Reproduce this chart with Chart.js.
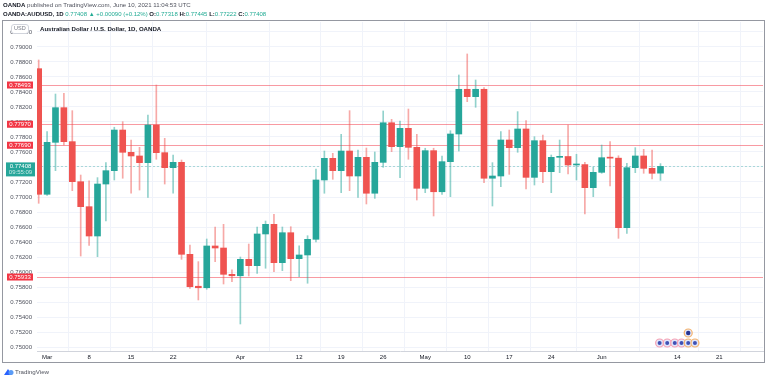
<!DOCTYPE html>
<html><head><meta charset="utf-8">
<script src="https://cdn.jsdelivr.net/npm/chart.js@4.4.0/dist/chart.umd.min.js"></script>
<style>
html,body{margin:0;padding:0;background:#fff;}
#wrap{position:relative;width:768px;height:381px;overflow:hidden;font-family:"Liberation Sans",Arial,sans-serif;}
#c{position:absolute;left:0;top:0;}
.t{position:absolute;white-space:nowrap;line-height:1;}
.g{color:#22ab94;}
b{color:#131722;}
</style></head><body>
<div id="wrap">
<canvas id="c" width="768" height="381"></canvas>
<div class="t" style="left:3px;top:2px;font-size:6.1px;color:#50535e"><b>OANDA</b> published on TradingView.com, June 10, 2021 11:04:53 UTC</div>
<div class="t" style="left:3px;top:11px;font-size:6px;color:#50535e"><b>OANDA:AUDUSD, 1D</b> <span class="g">0.77408 ▲ +0.00090 (+0.12%)</span> <b>O:</b><span class="g">0.77318</span> <b>H:</b><span class="g">0.77445</span> <b>L:</b><span class="g">0.77222</span> <b>C:</b><span class="g">0.77408</span></div>
<div class="t" style="left:11px;top:24px;font-size:5.5px;color:#787b86;background:#fff;border:1px solid #d1d4dc;border-radius:3px;padding:1px 2px;">USD</div>
<div class="t" style="left:40px;top:26px;font-size:6.1px;"><b>Australian Dollar / U.S. Dollar, 1D, OANDA</b></div>
<div class="t" style="left:15px;top:369px;font-size:6.2px;color:#50535e">TradingView</div>
</div>
<script>
// ---- data ----
const dates = ['2021-02-26','2021-03-01','2021-03-02','2021-03-03','2021-03-04','2021-03-05','2021-03-08','2021-03-09','2021-03-10','2021-03-11','2021-03-12','2021-03-15','2021-03-16','2021-03-17','2021-03-18','2021-03-19','2021-03-22','2021-03-23','2021-03-24','2021-03-25','2021-03-26','2021-03-29','2021-03-30','2021-03-31','2021-04-01','2021-04-02','2021-04-05','2021-04-06','2021-04-07','2021-04-08','2021-04-09','2021-04-12','2021-04-13','2021-04-14','2021-04-15','2021-04-16','2021-04-19','2021-04-20','2021-04-21','2021-04-22','2021-04-23','2021-04-26','2021-04-27','2021-04-28','2021-04-29','2021-04-30','2021-05-03','2021-05-04','2021-05-05','2021-05-06','2021-05-07','2021-05-10','2021-05-11','2021-05-12','2021-05-13','2021-05-14','2021-05-17','2021-05-18','2021-05-19','2021-05-20','2021-05-21','2021-05-24','2021-05-25','2021-05-26','2021-05-27','2021-05-28','2021-05-31','2021-06-01','2021-06-02','2021-06-03','2021-06-04','2021-06-07','2021-06-08','2021-06-09','2021-06-10'];
const opens  = [0.78711,0.77036,0.77729,0.78191,0.77738,0.77204,0.76871,0.76480,0.77173,0.77351,0.77893,0.77596,0.77547,0.77458,0.77960,0.77591,0.77391,0.77462,0.76236,0.75810,0.75790,0.76347,0.76320,0.75969,0.75950,0.76169,0.76084,0.76507,0.76636,0.76124,0.76524,0.76178,0.76227,0.76436,0.77227,0.77516,0.77351,0.77613,0.77280,0.77529,0.77050,0.77462,0.77990,0.77671,0.77916,0.77662,0.77116,0.77618,0.77070,0.77471,0.77840,0.78436,0.78338,0.78436,0.77250,0.77280,0.77760,0.77658,0.77907,0.77262,0.77751,0.77338,0.77529,0.77540,0.77427,0.77432,0.77124,0.77329,0.77524,0.77518,0.76591,0.77391,0.77547,0.77382,0.77318];
const highs  = [0.78827,0.77871,0.78373,0.78382,0.78151,0.77293,0.77217,0.77258,0.77458,0.77930,0.78004,0.77760,0.77662,0.78093,0.78493,0.77782,0.77560,0.77493,0.76360,0.76138,0.76440,0.76600,0.76636,0.76030,0.76200,0.76373,0.76600,0.76680,0.76770,0.76600,0.76604,0.76350,0.76484,0.77373,0.77613,0.77582,0.77836,0.78151,0.77627,0.77653,0.77600,0.78147,0.78036,0.78013,0.78173,0.77836,0.77650,0.77650,0.77547,0.77884,0.78627,0.78907,0.78560,0.78458,0.77458,0.77871,0.77893,0.78138,0.78018,0.77804,0.77827,0.77560,0.77760,0.77960,0.77570,0.77462,0.77400,0.77693,0.77738,0.77550,0.77450,0.77658,0.77636,0.77627,0.77445];
const lows   = [0.76916,0.77020,0.77351,0.77693,0.77084,0.76213,0.76356,0.76204,0.76680,0.77227,0.77250,0.77050,0.77093,0.76996,0.77503,0.77173,0.77050,0.76169,0.75782,0.75627,0.75770,0.76138,0.75840,0.75871,0.75307,0.75947,0.75982,0.76050,0.76004,0.76018,0.75884,0.75938,0.75850,0.76400,0.77050,0.77236,0.77058,0.77084,0.76996,0.76907,0.76982,0.77396,0.77604,0.77258,0.77503,0.76960,0.77058,0.76747,0.77036,0.77004,0.77613,0.78271,0.78196,0.77191,0.76880,0.77138,0.77302,0.77596,0.77107,0.77160,0.77191,0.77058,0.77324,0.77307,0.77227,0.76773,0.77004,0.77316,0.77147,0.76449,0.76516,0.77324,0.77316,0.77240,0.77222];
const closes = [0.77036,0.77729,0.78191,0.77738,0.77204,0.76871,0.76480,0.77173,0.77351,0.77893,0.77596,0.77547,0.77458,0.77960,0.77591,0.77391,0.77462,0.76236,0.75804,0.75790,0.76347,0.76320,0.75969,0.75950,0.76169,0.76084,0.76507,0.76636,0.76124,0.76524,0.76178,0.76227,0.76436,0.77227,0.77516,0.77351,0.77613,0.77280,0.77529,0.77050,0.77462,0.77990,0.77671,0.77916,0.77662,0.77116,0.77618,0.77070,0.77471,0.77840,0.78436,0.78338,0.78436,0.77250,0.77280,0.77760,0.77658,0.77907,0.77262,0.77751,0.77338,0.77529,0.77540,0.77427,0.77432,0.77124,0.77329,0.77524,0.77518,0.76591,0.77391,0.77547,0.77382,0.77316,0.77408];
const xTickIdx    = [1,6,11,16,24,31,36,41,46,51,56,61,67,76,81];
const xTickLabels = ['Mar','8','15','22','Apr','12','19','26','May','10','17','24','Jun','14','21'];
const yTickLabels = ['0.75000','0.75200','0.75400','0.75600','0.75800','0.76000','0.76200','0.76400','0.76600','0.76800','0.77000','0.77200','0.77400','0.77600','0.77800','0.78000','0.78200','0.78400','0.78600','0.78800','0.79000','0.79200'];
const levels = [0.78493, 0.77970, 0.77690, 0.75933];
const lastPrice = 0.77408;
const countdown = '09:55:09';
const eventIdx = [73.9, 74.8, 75.7, 76.5, 77.3, 78.1];
const eventTopIdx = 77.3;

const GREEN = '#26a69a', RED = '#ef5350';
const up = i => closes[i] >= opens[i];

const overlay = {
  id:'overlay',
  beforeDatasetsDraw(chart){
    const {ctx, chartArea:a, scales:{y}} = chart;
    ctx.save();
    ctx.beginPath(); ctx.rect(a.left,a.top,a.right-a.left,a.bottom-a.top); ctx.clip();
    ctx.lineWidth = 1;
    ctx.strokeStyle = 'rgba(242,54,69,0.5)';
    levels.forEach(v=>{const py=Math.round(y.getPixelForValue(v))+0.5;ctx.beginPath();ctx.moveTo(a.left,py);ctx.lineTo(a.right,py);ctx.stroke();});
    ctx.strokeStyle = 'rgba(38,166,154,0.35)';
    ctx.setLineDash([2,2]);
    const pp=Math.round(y.getPixelForValue(lastPrice))+0.5;
    ctx.beginPath();ctx.moveTo(a.left,pp);ctx.lineTo(a.right,pp);ctx.stroke();
    ctx.restore();
  },
  afterDraw(chart){
    const {ctx, chartArea:a, scales:{x,y}} = chart;
    ctx.save();
    // frame
    ctx.strokeStyle = '#9598a1'; ctx.lineWidth = 1;
    ctx.strokeRect(2.5, 20.5, 762, 342);
    // level labels
    ctx.font = '6px "Liberation Sans", Arial, sans-serif';
    ctx.textAlign='center'; ctx.textBaseline='middle';
    levels.forEach(v=>{
      const py = y.getPixelForValue(v);
      ctx.fillStyle = '#f23645';
      ctx.fillRect(7, py-3.5, 26, 7);
      ctx.fillStyle = '#fff';
      ctx.fillText(v.toFixed(5), 20, py+0.3);
    });
    const pp = y.getPixelForValue(lastPrice);
    ctx.fillStyle = GREEN;
    ctx.fillRect(6, pp-4, 29, 14);
    ctx.fillStyle = '#fff';
    ctx.fillText(lastPrice.toFixed(5), 20.5, pp-0.3);
    ctx.fillStyle = 'rgba(255,255,255,0.75)';
    ctx.fillText(countdown, 20.5, pp+6.3);
    // event markers
    const ey = a.bottom - 8;
    eventIdx.forEach((v,k)=>{
      const px = x.getPixelForValue(v);
      ctx.beginPath(); ctx.arc(px, ey, 4, 0, Math.PI*2);
      ctx.fillStyle = '#dfe6fb'; ctx.fill();
      ctx.lineWidth = 1.2; ctx.strokeStyle = k<4 ? '#f7a1b3' : '#f6b26b'; ctx.stroke();
      ctx.beginPath(); ctx.arc(px, ey, 2, 0, Math.PI*2); ctx.fillStyle='#3f51b5'; ctx.fill();
    });
    const tx = x.getPixelForValue(eventTopIdx);
    ctx.beginPath(); ctx.arc(tx, ey-10, 4, 0, Math.PI*2);
    ctx.fillStyle='#dfe6fb'; ctx.fill(); ctx.strokeStyle='#f6b26b'; ctx.stroke();
    ctx.beginPath(); ctx.arc(tx, ey-10, 2.2, 0, Math.PI*2); ctx.fillStyle='#283593'; ctx.fill();
    // TradingView icon
    ctx.fillStyle = '#2962ff';
    ctx.beginPath(); ctx.moveTo(4,375); ctx.lineTo(8,369); ctx.lineTo(12,375); ctx.closePath(); ctx.fill();
    ctx.fillStyle = '#5b9cf6';
    ctx.beginPath(); ctx.arc(11,372.5,2.5,0,Math.PI*2); ctx.fill();
    ctx.restore();
  }
};

new Chart(document.getElementById('c'), {
  type:'bar',
  data:{datasets:[
    {label:'body', order:0, grouped:false, barThickness:6, minBarLength:1, borderWidth:0,
     data: dates.map((d,i)=>({x:i, y:[opens[i], closes[i]]})),
     backgroundColor: c => up(c.dataIndex) ? GREEN : RED},
    {label:'wick', order:1, grouped:false, barThickness:1, borderWidth:0,
     data: dates.map((d,i)=>({x:i, y:[lows[i], highs[i]]})),
     backgroundColor: c => up(c.dataIndex) ? 'rgba(38,166,154,0.5)' : 'rgba(239,83,80,0.5)'}
  ]},
  options:{
    responsive:false, animation:false, devicePixelRatio:1,
    layout:{padding:{left:2,right:5,top:22,bottom:18}},
    plugins:{legend:{display:false}, tooltip:{enabled:false}},
    scales:{
      x:{type:'linear', min:-0.2, max:86.2, offset:false,
         grid:{color:'#f0f3fa', drawTicks:false},
         border:{color:'#d1d4dc'},
         ticks:{autoSkip:false, maxRotation:0, padding:3, color:'#131722',
                font:{family:'"Liberation Sans", Arial, sans-serif', size:6},
                callback:(v)=>{const k=xTickIdx.indexOf(v);return k<0?'':xTickLabels[k];}},
         afterBuildTicks:s=>{s.ticks = xTickIdx.map(v=>({value:v}));},
         afterFit:s=>{s.height=12;}},
      y:{type:'linear', position:'left', min:0.749467, max:0.793333,
         grid:{color:'#f0f3fa', drawTicks:false},
         border:{display:false},
         ticks:{padding:5, color:'#50535e',
                font:{family:'"Liberation Sans", Arial, sans-serif', size:6},
                callback:(v)=>{const k=yTickLabels.findIndex(t=>Math.abs(parseFloat(t)-v)<1e-7);return k<0?'':yTickLabels[k];}},
         afterBuildTicks:s=>{s.ticks = yTickLabels.map(t=>({value:parseFloat(t)}));},
         afterFit:s=>{s.width=35;}}
    }
  },
  plugins:[overlay]
});
</script>
</body></html>
